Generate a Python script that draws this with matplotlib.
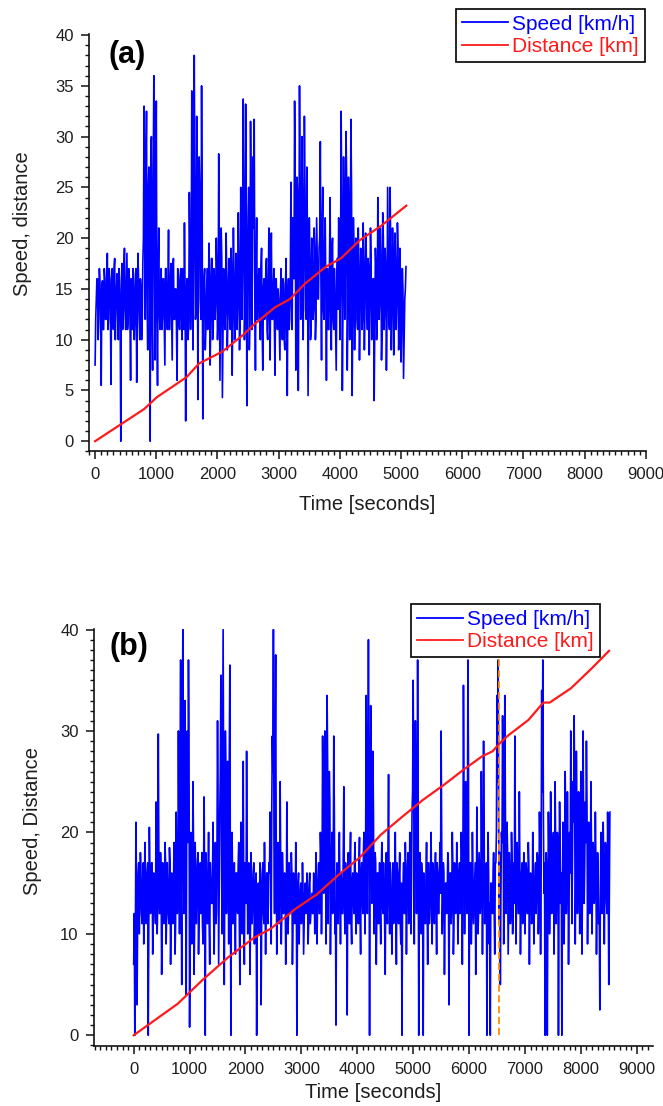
import numpy as np
import matplotlib
matplotlib.use('Agg')
import matplotlib.pyplot as plt
from matplotlib.ticker import MultipleLocator

plt.rc('font', family=['Liberation Sans', 'DejaVu Sans'])

# sampling step of the speed records [s]
dt = 10

# speed record (a) [km/h]: values at t = 0, 20, 40, ...
speed_a_even = [
    7.5, 14, 16, 12, 15.5, 5.5, 15.8, 11, 16, 12,
    18.5, 12, 16, 5.6, 17, 11, 18, 13, 16.5, 10,
    15, 0, 17.5, 12, 19, 11, 18.5, 12, 16, 6,
    14, 17, 10, 16.5, 5.8, 18.5, 12, 16, 10, 17.5,
    33, 12, 32.5, 9, 27, 0, 30, 7, 36, 8,
    33.5, 5.5, 21, 11, 17, 12, 16, 7.5, 17, 11,
    20.8, 11, 17.5, 8, 18, 12, 15, 6, 16.5, 11,
    17, 10, 14, 21.5, 2, 16, 10, 24.5, 11, 34.5,
    9, 38, 12, 32, 4.1, 28, 14, 35, 2.2, 16,
    9, 14, 11, 19.5, 7.5, 18, 10, 17, 12, 20,
    10, 28.3, 6, 21, 4.3, 17, 11, 20.5, 9, 16,
    12, 19, 6.5, 21, 10, 18.5, 11, 22.5, 9, 25,
    12, 33.7, 10, 33.2, 3.5, 22, 9, 31.5, 11, 28,
    31.7, 7, 22, 12, 17, 10, 19, 7, 16, 13,
    18, 10, 21, 8, 20.5, 12, 17, 6.5, 16, 11,
    14, 8, 17, 10, 15.5, 9, 18, 4.5, 16, 12,
    25.5, 11, 20, 33.5, 7, 26, 5, 35, 12, 30,
    10, 32, 13, 27, 4.5, 22, 10, 20, 12, 21,
    10, 22, 14, 19, 29.5, 8, 25, 12, 22, 6,
    17, 11, 24, 9, 20, 11, 15, 7, 18, 22,
    10, 32.5, 5, 28, 12, 30.5, 7, 26, 10, 31.7,
    4.5, 22, 9, 20, 12, 21, 8, 19, 11, 21.5,
    9, 20.5, 13, 18, 8.5, 21, 10, 16, 4, 19,
    10, 24, 12, 21, 8, 22.5, 11, 19, 7, 25,
    12, 25, 9, 21, 8.5, 20.5, 11, 21.5, 9, 19,
    7.8, 17, 6.2, 14, 17.2,
]
# speed record (a) [km/h]: values at t = 10, 30, 50, ...
speed_a_odd = [
    12, 16, 10, 17, 13, 15, 11, 17, 12, 16,
    11, 17, 13, 16, 12, 17, 10, 15, 12, 17,
    12, 16, 11, 17, 13, 15, 11, 17, 12, 16,
    11, 15, 12, 17, 13, 16, 10, 15, 12, 20,
    22, 27, 14, 25, 18, 28, 12, 26, 20, 24,
    12, 17, 13, 15, 11, 16, 12, 17, 13, 15,
    11, 16, 13, 17, 12, 15, 11, 17, 12, 16,
    12, 17, 11, 15, 13, 16, 12, 19, 14, 24,
    20, 26, 13, 22, 18, 25, 12, 21, 14, 17,
    11, 17, 13, 16, 12, 18, 11, 16, 14, 17,
    12, 17, 13, 18, 11, 16, 13, 17, 12, 18,
    11, 17, 13, 16, 12, 18, 14, 17, 12, 21,
    18, 24, 13, 22, 16, 25, 12, 23, 17, 21,
    14, 17, 12, 16, 13, 17, 11, 15, 12, 17,
    11, 16, 13, 17, 12, 15, 11, 16, 13, 15,
    11, 15, 12, 16, 10, 15, 12, 14, 11, 16,
    14, 22, 16, 26, 13, 24, 17, 25, 14, 23,
    18, 24, 12, 20, 14, 18, 11, 17, 13, 19,
    12, 18, 14, 20, 16, 21, 13, 19, 15, 17,
    11, 18, 13, 19, 12, 17, 11, 16, 13, 20,
    16, 24, 13, 22, 18, 26, 12, 22, 17, 25,
    12, 19, 14, 18, 11, 17, 13, 18, 12, 17,
    13, 19, 11, 17, 14, 18, 12, 16, 11, 17,
    12, 19, 14, 18, 11, 20, 13, 17, 12, 19,
    11, 19, 13, 18, 12, 17, 14, 19, 11, 16,
    12, 15, 10, 15,
]

# distance (a) [km] read at these times [s]
dist_t_a = [0, 802, 1008, 1492, 1700, 2080, 2425, 2598, 2943, 3185,
            3427, 3773, 4015, 4325, 4671, 5085]
dist_a = [0, 3.17, 4.33, 6.3, 7.66, 8.83, 10.5, 11.5, 13.2, 14.0,
          15.5, 17.2, 18.0, 19.8, 21.2, 23.2]

# speed record (b) [km/h]: values at t = 0, 20, 40, ...
speed_b_even = [
    7, 0, 21, 3, 16, 10, 18, 12, 15, 9,
    19, 11, 16, 0, 20.5, 12, 17, 8, 16, 13,
    23, 10, 29.7, 12, 18, 6, 17, 11, 19, 9,
    17, 12, 18.5, 7, 16, 11, 19, 8, 22, 12,
    30, 10, 37, 5, 40, 12, 33, 4, 30, 37,
    0.8, 20, 9, 25, 6, 19, 11, 17, 8, 16,
    12, 18, 9, 23.5, 0, 17, 11, 20, 7, 15,
    13, 21, 8, 19, 12, 31, 7, 22, 35.5, 10,
    40, 5, 30, 12, 27, 9, 36.5, 0, 20, 11,
    17, 8, 16, 12, 19, 5, 21, 10, 27, 7,
    15, 28, 10, 17, 6, 18, 11, 16, 9, 15,
    0, 14, 10, 17, 3, 15, 12, 19, 8, 16,
    11, 17, 22, 9, 29.5, 40, 12, 37.5, 8, 19,
    11, 25, 9, 18, 12, 16, 7, 23, 10, 17,
    12, 18, 7, 16, 11, 19, 0, 15, 9, 14,
    11, 17, 8, 14, 12, 16, 9, 15, 11, 13,
    12, 16, 10, 18, 9, 15, 12, 20, 10, 29.5,
    14, 30, 9, 33.5, 11, 26, 8, 18, 12, 29.5,
    10, 1, 17, 11, 20, 9, 15, 12, 24.5, 10,
    16, 2, 18, 11, 20, 9, 16, 12, 19, 10,
    15, 11, 19.5, 8, 17, 12, 20, 10, 33.5, 12,
    39, 0, 32.5, 13, 28, 10, 18, 7, 16, 11,
    17, 9, 19, 12, 15, 6, 18, 11, 25.7, 10,
    14, 8, 17, 12, 20, 7, 16, 11, 18, 9,
    0, 15, 12, 19, 8, 17, 11, 20, 10, 22,
    35, 9, 31, 12, 37, 0, 18, 10, 16, 0,
    14, 11, 19, 7, 17, 12, 20, 9, 15, 11,
    18, 8, 16, 12, 19, 30, 10, 17, 6, 15,
    12, 18, 3, 16, 11, 20, 8, 17, 12, 19,
    9, 16, 12, 20, 7, 34.5, 10, 25, 12, 37,
    0, 17, 9, 20, 11, 15, 6, 22.5, 10, 18,
    12, 26, 8, 29, 11, 16, 0, 20, 9, 0,
    15, 12, 18, 8, 17, 33.5, 37, 11, 5, 20,
    31.5, 9, 33.5, 12, 21, 8, 18, 11, 20, 10,
    17, 29.5, 9, 19, 12, 24, 8, 16, 11, 18,
    10, 17, 12, 19, 7, 16, 11, 20, 9, 15,
    12, 18, 10, 22, 8, 34, 37, 14, 0, 18,
    0, 22, 10, 24, 12, 19, 8, 25, 11, 20,
    0, 23, 13, 0, 21, 9, 26, 12, 24, 7,
    20, 30, 11, 25, 31.5, 9, 28, 12, 24, 10,
    26, 8, 30, 13, 23, 29, 9, 21, 12, 25,
    10, 19, 13, 22, 8, 18, 11, 2.5, 20, 12,
    21, 9, 19, 13, 22, 5, 22,
]
# speed record (b) [km/h]: values at t = 10, 30, 50, ...
speed_b_odd = [
    12, 9, 15, 11, 17, 13, 16, 11, 17, 12,
    15, 13, 17, 11, 16, 14, 17, 12, 15, 11,
    17, 13, 18, 12, 16, 11, 15, 13, 17, 12,
    14, 11, 17, 12, 15, 13, 17, 11, 16, 14,
    20, 26, 15, 30, 18, 27, 13, 24, 19, 28,
    12, 17, 13, 19, 11, 16, 14, 18, 12, 17,
    14, 11, 16, 13, 18, 12, 15, 11, 17, 13,
    16, 12, 15, 11, 18, 22, 14, 26, 20, 25,
    22, 15, 26, 18, 21, 27, 14, 19, 15, 13,
    12, 16, 13, 17, 11, 15, 13, 18, 12, 17,
    13, 17, 12, 16, 11, 15, 13, 17, 12, 16,
    11, 15, 13, 16, 12, 17, 11, 14, 13, 16,
    13, 16, 18, 22, 26, 20, 28, 18, 16, 13,
    14, 17, 12, 16, 13, 15, 11, 17, 12, 15,
    13, 16, 11, 15, 12, 14, 11, 16, 12, 15,
    12, 14, 11, 15, 13, 14, 11, 16, 12, 14,
    12, 15, 11, 16, 13, 17, 12, 18, 15, 21,
    19, 24, 15, 27, 18, 23, 14, 20, 16, 22,
    13, 16, 12, 17, 14, 16, 12, 18, 13, 17,
    12, 16, 13, 17, 11, 15, 14, 17, 12, 16,
    13, 17, 12, 16, 14, 18, 13, 19, 20, 26,
    25, 20, 27, 18, 22, 14, 17, 12, 16, 13,
    12, 16, 13, 17, 11, 15, 13, 18, 14, 17,
    12, 16, 11, 15, 13, 17, 12, 16, 11, 15,
    13, 17, 12, 16, 14, 18, 12, 17, 15, 24,
    26, 20, 24, 19, 22, 16, 14, 17, 12, 16,
    12, 16, 13, 17, 11, 15, 14, 17, 12, 16,
    13, 17, 12, 16, 14, 20, 13, 16, 12, 15,
    14, 17, 12, 16, 13, 17, 11, 15, 13, 16,
    12, 17, 14, 18, 16, 24, 18, 22, 19, 26,
    14, 17, 12, 16, 13, 17, 11, 16, 12, 15,
    13, 18, 15, 20, 14, 17, 12, 16, 13, 15,
    13, 16, 12, 17, 20, 25, 22, 18, 14, 19,
    24, 17, 22, 15, 18, 13, 16, 12, 17, 14,
    13, 18, 14, 17, 12, 16, 13, 17, 12, 16,
    13, 16, 12, 17, 14, 15, 12, 16, 13, 17,
    14, 17, 13, 18, 16, 24, 22, 17, 12, 16,
    13, 18, 14, 19, 15, 20, 13, 18, 15, 19,
    14, 18, 16, 13, 19, 14, 20, 15, 18, 13,
    16, 22, 17, 21, 24, 15, 22, 16, 19, 14,
    20, 15, 22, 17, 19, 23, 15, 18, 14, 19,
    15, 18, 14, 17, 13, 16, 12, 14, 16, 13,
    17, 14, 18, 12, 16, 14,
]

# distance (b) [km] read at these times [s]
dist_t_b = [0, 787, 1241, 1694, 2149, 2451, 2905, 3281, 3662, 4040,
            4418, 4796, 5174, 5553, 5930, 6233, 6422, 6535, 6687, 7065,
            7330, 7443, 7821, 8200, 8504]
dist_b = [0, 3.1, 5.5, 7.7, 9.6, 10.5, 12.5, 13.9, 15.8, 17.5,
          19.75, 21.5, 23.2, 24.7, 26.3, 27.5, 28.0, 28.7, 29.5, 31.1,
          32.8, 32.8, 34.2, 36.2, 37.9]

# marker time in (b)
mark_t = 6535


def merge(even, odd):
    out = np.empty(len(even) + len(odd))
    out[0::2] = even
    out[1::2] = odd
    return out


speed_a = merge(speed_a_even, speed_a_odd)
speed_b = merge(speed_b_even, speed_b_odd)
time_a = np.arange(len(speed_a)) * dt
time_b = np.arange(len(speed_b)) * dt

blue = '#0000ff'
red = '#ff1a1a'
txt = '#1e1e1e'

fig = plt.figure(figsize=(6.63, 11.06), dpi=100)
ax1 = fig.add_axes([0.1342, 0.5919, 0.840, 0.3773])
ax2 = fig.add_axes([0.1418, 0.0539, 0.843, 0.3778])


def style(ax, major_y):
    for s in ['top', 'right']:
        ax.spines[s].set_visible(False)
    for s in ['left', 'bottom']:
        ax.spines[s].set_linewidth(1.2)
        ax.spines[s].set_color('#111111')
    ax.xaxis.set_major_locator(MultipleLocator(1000))
    ax.xaxis.set_minor_locator(MultipleLocator(100))
    ax.yaxis.set_major_locator(MultipleLocator(major_y))
    ax.yaxis.set_minor_locator(MultipleLocator(1))
    ax.tick_params(which='major', direction='out', length=6, width=1.1,
                   labelsize=12, labelcolor=txt, color='#111111')
    ax.tick_params(which='minor', direction='out', length=3, width=1.0,
                   color='#111111')
    ax.tick_params(axis='y', pad=5)
    ax.tick_params(axis='x', pad=5)


def legend(anchor, handles):
    leg = fig.legend(handles, ['Speed [km/h]', 'Distance [km]'], loc='upper right',
                     bbox_to_anchor=anchor, fontsize=15, fancybox=False,
                     framealpha=1, edgecolor='black', handlelength=2.2,
                     handletextpad=0.2, labelspacing=0.15, borderpad=0.3,
                     borderaxespad=0)
    leg.get_frame().set_linewidth(1.2)
    for t, c in zip(leg.get_texts(), [blue, red]):
        t.set_color(c)
    for h in leg.legend_handles:
        h.set_linewidth(1.3)
    return leg


# ---- panel (a)
l1, = ax1.plot(time_a, speed_a, '-', color=blue, lw=1.2)
l2, = ax1.plot(dist_t_a, dist_a, '-', color=red, lw=1.6)
ax1.set_xlim(-100, 9000)
ax1.set_ylim(-1, 40.1)
style(ax1, 5)
ax1.set_xlabel('Time [seconds]', fontsize=14.5, color=txt)
ax1.xaxis.set_label_coords(0.499, -0.105)
ax1.set_ylabel('Speed, distance', fontsize=14.5, color=txt)
ax1.yaxis.set_label_coords(-0.102, 0.545)
ax1.text(0.068, 0.95, '(a)', transform=ax1.transAxes, fontsize=22,
         fontweight='bold', ha='center', va='center')
legend((0.973, 0.9923), [l1, l2])

# ---- panel (b)
l3, = ax2.plot(time_b, speed_b, '-', color=blue, lw=1.2)
l4, = ax2.plot(dist_t_b, dist_b, '-', color=red, lw=1.6)
ax2.plot([mark_t, mark_t], [0, 40], '--', color='#ff8c00', lw=1.3, dashes=(4, 2))
ax2.set_xlim(-710, 9290)
ax2.set_ylim(-1.1, 40.1)
style(ax2, 10)
ax2.set_xlabel('Time [seconds]', fontsize=14.5, color=txt)
ax2.xaxis.set_label_coords(0.499, -0.0876)
ax2.set_ylabel('Speed, Distance', fontsize=14.5, color=txt)
ax2.yaxis.set_label_coords(-0.093, 0.539)
ax2.text(0.0626, 0.956, '(b)', transform=ax2.transAxes, fontsize=22,
         fontweight='bold', ha='center', va='center')
legend((0.905, 0.4543), [l3, l4])

fig.savefig('out.png', dpi=100)
